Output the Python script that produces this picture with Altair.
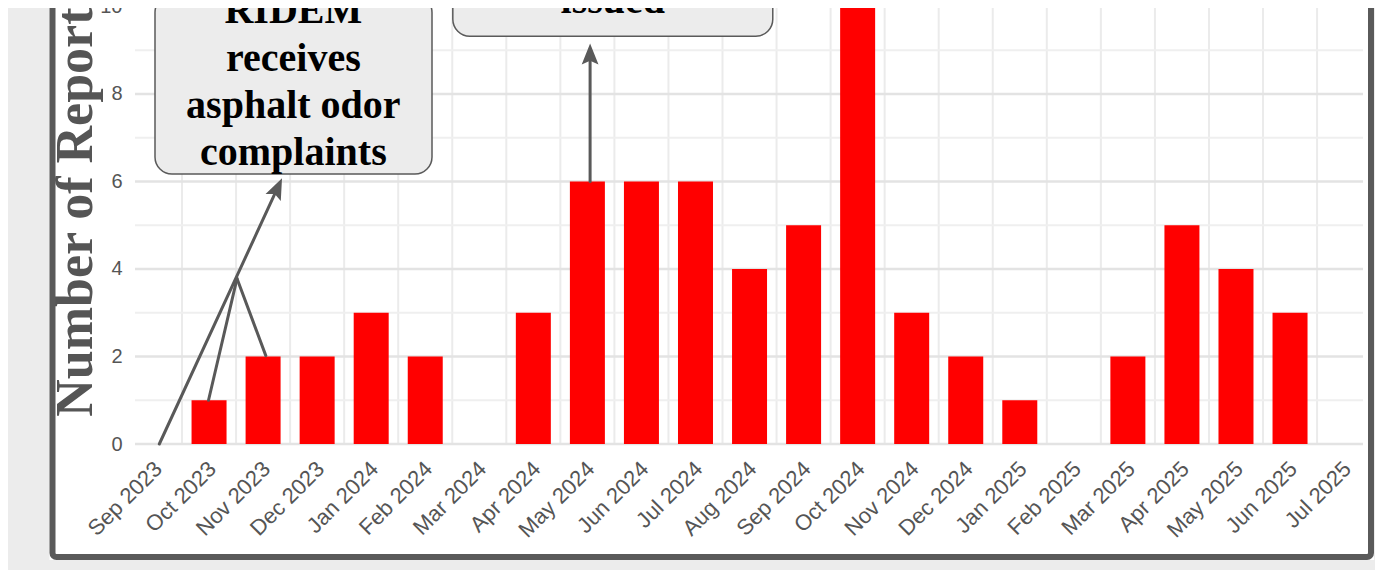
import altair as alt
import pandas as pd

# ---- data ----
months = ["Sep 2023", "Oct 2023", "Nov 2023", "Dec 2023", "Jan 2024", "Feb 2024",
          "Mar 2024", "Apr 2024", "May 2024", "Jun 2024", "Jul 2024", "Aug 2024",
          "Sep 2024", "Oct 2024", "Nov 2024", "Dec 2024", "Jan 2025", "Feb 2025",
          "Mar 2025", "Apr 2025", "May 2025", "Jun 2025", "Jul 2025"]
reports = [0, 1, 2, 2, 3, 2, 0, 3, 6, 6, 6, 4, 5, 11, 3, 2, 1, 0, 2, 5, 4, 3, 0]
y_tick_values = [0, 2, 4, 6, 8, 10]
y_major_grid = [0, 2, 4, 6, 8, 10]
y_minor_grid = [1, 3, 5, 7, 9, 11]

# annotation boxes (month index / report units)
box_x0 = [0.0, 5.51]
box_x1 = [5.125, 11.43]
box_y0 = [6.17, 9.32]
box_y1 = [10.25, 11.8]
box_lines = ["RIDEM", "receives", "asphalt odor", "complaints", "issued"]
box_line_x = [2.56, 2.56, 2.56, 2.56, 8.47]
box_line_y = [9.63, 8.53, 7.45, 6.37, 9.84]

# connector segments (month index / report units)
seg_x0 = [0.08, 0.99, 2.05, 8.05]
seg_y0 = [0.0, 1.0, 2.02, 6.0]
seg_x1 = [2.233, 1.517, 1.517, 8.05]
seg_y1 = [5.76, 3.78, 3.78, 8.81]
tip_x = [2.35, 8.05]
tip_y = [6.07, 9.15]
tip_angle = [24.9, 0]

n = len(months)
bars_df = pd.DataFrame({"i": list(range(n)), "month": months, "reports": reports})
vgrid_df = pd.DataFrame({"b": [k + 0.5 for k in range(n - 1)]})
major_df = pd.DataFrame({"v": y_major_grid})
minor_df = pd.DataFrame({"v": y_minor_grid})
box_df = pd.DataFrame({"x0": box_x0, "x1": box_x1, "y0": box_y0, "y1": box_y1})
text_df = pd.DataFrame({"t": box_lines, "x": box_line_x, "y": box_line_y})
seg_df = pd.DataFrame({"x0": seg_x0, "y0": seg_y0, "x1": seg_x1, "y1": seg_y1})
tip_df = pd.DataFrame({"x": tip_x, "y": tip_y, "a": tip_angle})

W, H = 1228, 491
xs = alt.Scale(domain=[-0.37, 22.35], nice=False, zero=False, padding=0)
ys = alt.Scale(domain=[0, 11.22], nice=False, zero=False, padding=0)

label_expr = "[" + ",".join("'%s'" % m for m in months) + "][datum.value]"

one = pd.DataFrame({"k": [0]})
# grey surround outside the framed panel
surround = alt.Chart(one).mark_rect(
    fillOpacity=0, stroke="#ececec", strokeWidth=220
).encode(x=alt.value(-195.5), x2=alt.value(1349), y=alt.value(-260), y2=alt.value(717))
# dark frame of the panel
frame = alt.Chart(one).mark_rect(
    fillOpacity=0, stroke="#5a5a5a", strokeWidth=6, cornerRadius=4
).encode(x=alt.value(-82.5), x2=alt.value(1236), y=alt.value(-140), y2=alt.value(604))

vgrid = alt.Chart(vgrid_df).mark_rule(color="#ebebeb", strokeWidth=2).encode(
    x=alt.X("b:Q", scale=xs, axis=None))
minor = alt.Chart(minor_df).mark_rule(color="#efefef", strokeWidth=2).encode(
    y=alt.Y("v:Q", scale=ys, axis=None))
major = alt.Chart(major_df).mark_rule(color="#e3e3e3", strokeWidth=2.5).encode(
    y=alt.Y("v:Q", scale=ys, axis=None))

bars = alt.Chart(bars_df).mark_bar(size=35, color="#ff0000").encode(
    x=alt.X("i:Q", scale=xs, title=None,
            axis=alt.Axis(values=list(range(n)), labelExpr=label_expr, labelAngle=315,
                          labelAlign="right", labelBaseline="middle", labelOffset=3,
                          labelFont="Liberation Sans", labelFontSize=22, labelColor="#555555",
                          labelPadding=21, ticks=False, domain=False, grid=False,
                          labelOverlap=False)),
    y=alt.Y("reports:Q", scale=ys, title="Number of Reports",
            axis=alt.Axis(values=y_tick_values, labelFont="Liberation Sans", labelFontSize=20,
                          labelColor="#555555", labelPadding=13, ticks=False, domain=False,
                          grid=False,
                          titleFont="Liberation Serif", titleFontSize=52, titleFontWeight="bold",
                          titleColor="#555555", titleAngle=270, titleX=-44, titleY=H / 2 + 3,
                          titleAlign="center", titleBaseline="alphabetic")),
    tooltip=["month:N", "reports:Q"],
)

segs = alt.Chart(seg_df).mark_rule(color="#595959", strokeWidth=3, strokeCap="round").encode(
    x=alt.X("x0:Q", scale=xs, axis=None), y=alt.Y("y0:Q", scale=ys, axis=None),
    x2="x1:Q", y2="y1:Q")

tips = alt.Chart(tip_df).mark_point(
    shape="M0,0 L-0.4,1 L0,0.82 L0.4,1 Z", size=1764, filled=True, opacity=1,
    color="#595959"
).encode(x=alt.X("x:Q", scale=xs, axis=None), y=alt.Y("y:Q", scale=ys, axis=None),
         angle=alt.Angle("a:Q", scale=None))

boxes = alt.Chart(box_df).mark_rect(
    fill="#ececec", stroke="#5a5a5a", strokeWidth=1.5, cornerRadius=17
).encode(x=alt.X("x0:Q", scale=xs, axis=None), x2="x1:Q",
         y=alt.Y("y0:Q", scale=ys, axis=None), y2="y1:Q")

texts = alt.Chart(text_df).mark_text(
    font="Liberation Serif", fontSize=40, fontWeight="bold", color="black",
    align="center", baseline="alphabetic"
).encode(x=alt.X("x:Q", scale=xs, axis=None), y=alt.Y("y:Q", scale=ys, axis=None), text="t:N")

chart = alt.layer(surround, frame, vgrid, minor, major, bars, segs, tips, boxes, texts).resolve_axis(
    x="independent", y="independent"
).properties(
    width=W, height=H,
    background="white",
    padding={"left": 127, "top": -55, "right": 12, "bottom": 126},
    autosize=alt.AutoSizeParams(type="none"),
).configure_view(strokeWidth=0)

chart.save("out.html", embed_options={"renderer": "svg", "actions": False})
